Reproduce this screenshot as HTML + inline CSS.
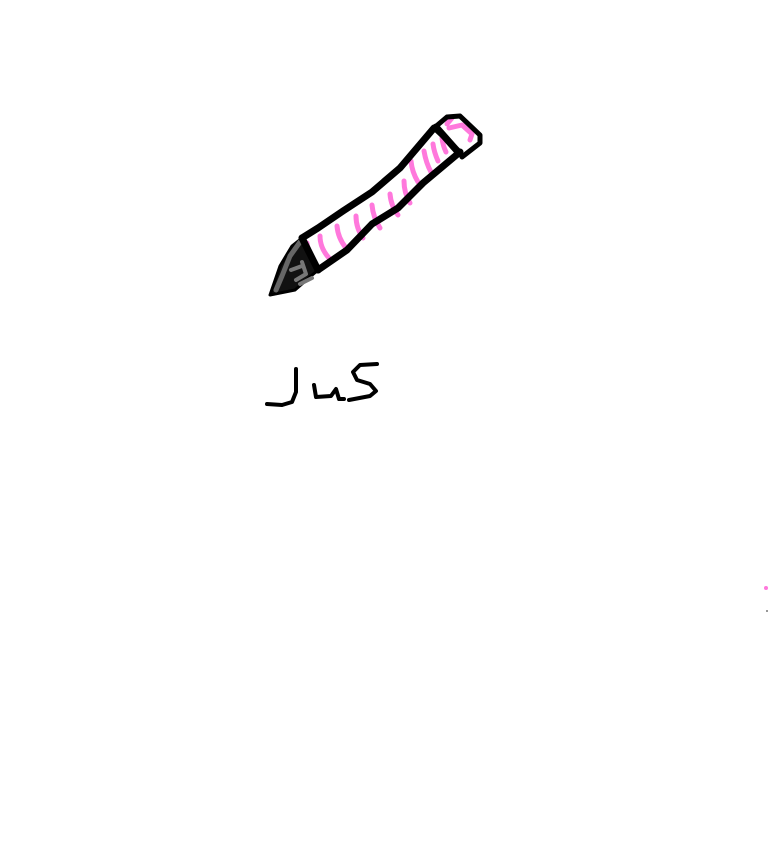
<!DOCTYPE html>
<html><head><meta charset="utf-8"><style>html,body{margin:0;padding:0;background:#fff;width:768px;height:866px;overflow:hidden}</style></head>
<body>
<svg width="768" height="866" viewBox="0 0 768 866" xmlns="http://www.w3.org/2000/svg">
<g fill="none" stroke-linecap="round" stroke-linejoin="round">
<path d="M302,238 L292,246 L280,266 L270,295 L295,290 L318,270 Z" fill="#111" stroke="#000" stroke-width="3"/>
<path d="M300,242 L290,256 L282,276 L276,290" stroke="#666" stroke-width="5"/>
<path d="M291,270 L302,266 M296,280 L306,274 L302,262 M300,284 L312,278" stroke="#777" stroke-width="4"/>
<g stroke="#ff78dc" stroke-width="5">
<path d="M307,243 Q308,255 316,265"/><path d="M320,236 Q320,248 329,258"/><path d="M337,226 Q338,238 346,248"/><path d="M356,216 Q356,228 363,238"/>
<path d="M372,205 Q373,217 380,228"/><path d="M390,194 Q391,206 398,215"/><path d="M404,181 Q404,193 410,203"/><path d="M411,161 Q412,172 418,182"/>
<path d="M424,151 Q426,163 431,172"/><path d="M433,144 Q434,152 438,161"/><path d="M442,138 Q443,146 446,152"/>
</g>
<path d="M302,238 L318,228 L343,211 L372,192 L400,168 L434,128 M318,270 L347,250 L372,224 L398,208 L423,183 L460,152" stroke="#000" stroke-width="7"/>
<path d="M302,238 L318,270" stroke="#000" stroke-width="7"/>
<path d="M449,128 L462,125 L472,134 L470,140 M447,124 L452,118" stroke="#ff78dc" stroke-width="5"/>
<path d="M434,128 L447,117 L460,116 L480,135 L480,143 L462,157 L460,152 Z" stroke="#000" stroke-width="5"/>
<path d="M436,127 L459,153" stroke="#000" stroke-width="7"/>
<path d="M296,369 L296,392 L292,402 L282,405 L267,404" stroke="#000" stroke-width="4"/>
<path d="M314,385 L316,397 L331,396 L336,389 L339,399 L344,399" stroke="#000" stroke-width="4"/>
<path d="M377,364 L360,365 L353,372 L357,380 L370,384 L376,391 L370,396 L349,400" stroke="#000" stroke-width="4"/>
</g>
<circle cx="766" cy="588" r="2" fill="#ff78dc"/>
<circle cx="767" cy="611" r="1" fill="#777"/>
</svg>
</body></html>
